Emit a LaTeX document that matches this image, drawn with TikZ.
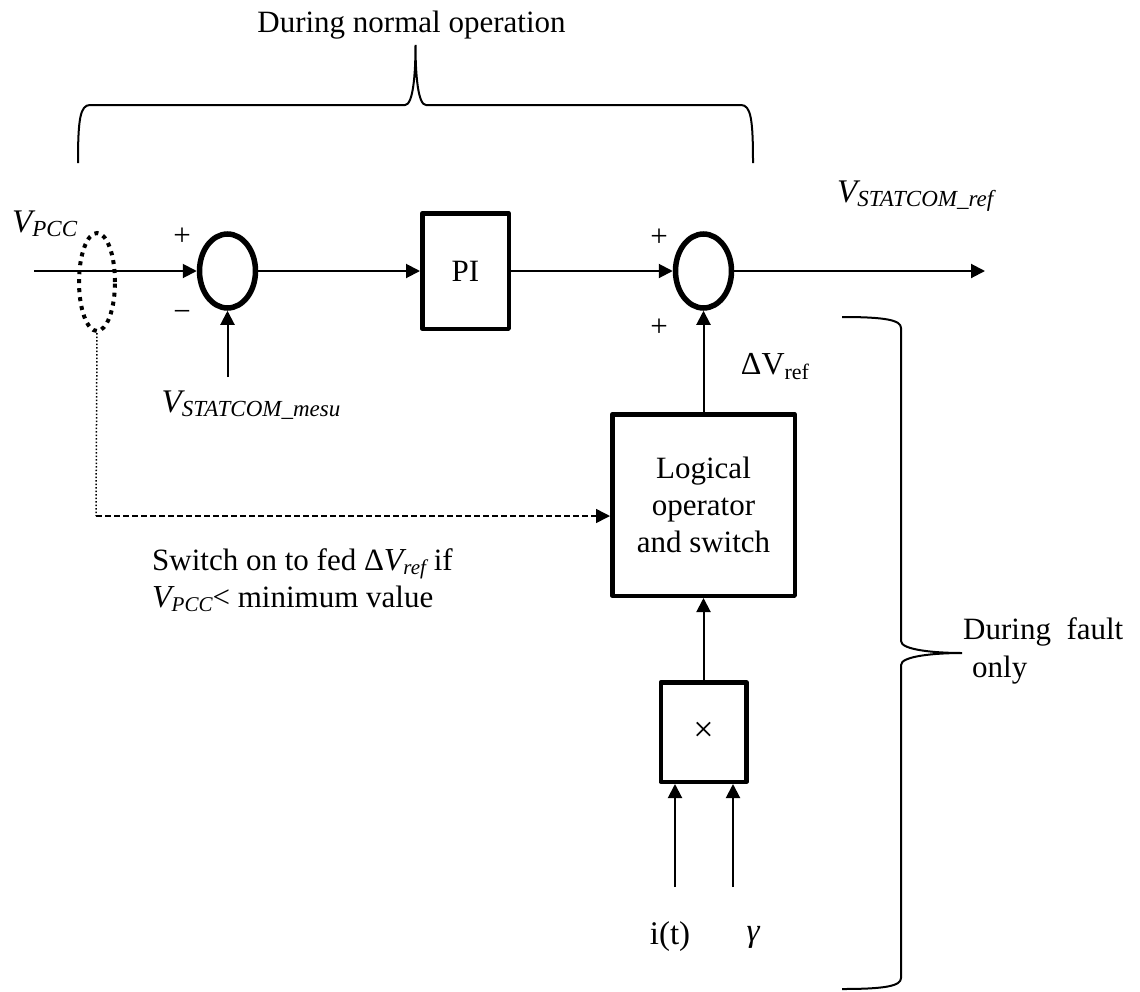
\documentclass[tikz,border=0pt]{standalone}
\usepackage{fontspec}
\setmainfont{Liberation Serif}
\usetikzlibrary{arrows.meta,shapes.geometric,calc}
\newcommand{\vsb}[2]{{\fontsize{33}{33}\selectfont\itshape #1}\raisebox{-4pt}{\fontsize{23}{23}\selectfont\itshape #2}}
\newcommand{\vsbin}[2]{{\fontsize{32}{32}\selectfont\itshape #1}\raisebox{-4pt}{\fontsize{21}{21}\selectfont\itshape #2}}
\newcommand{\vsbup}[2]{{\fontsize{32}{32}\selectfont #1}\raisebox{-5pt}{\fontsize{22}{22}\selectfont #2}}
\begin{document}
\begin{tikzpicture}[x=1pt,y=-1pt,
  font=\fontsize{31}{37}\selectfont,
  >={Triangle[length=14pt,width=14pt]},
  conn/.style={line width=2pt,->},
  sumnode/.style={ellipse,draw,line width=5.5pt,minimum width=56pt,minimum height=74pt,inner sep=0pt},
  blockbox/.style={rectangle,draw,line width=4.5pt,line join=round,inner sep=0pt},
  sensor/.style={ellipse,draw,line width=4pt,dash pattern=on 4pt off 5pt,minimum width=36pt,minimum height=98pt,inner sep=0pt},
  bracepath/.style={line width=2pt},
  lbl/.style={inner sep=0pt}]
\useasboundingbox (0,0) rectangle (1140,991);

% blocks
\node[sumnode] (s1) at (227.5,271) {};
\node[sumnode] (s2) at (703.5,271) {};
\node[blockbox,minimum width=86.5pt,minimum height=115.5pt] (pi) at (465.5,271) {PI};
\node[blockbox,minimum width=182.5pt,minimum height=181.5pt,align=center] (logic) at (703.5,505) {Logical\\operator\\and switch};
\node[blockbox,minimum width=85.5pt,minimum height=99.5pt] (mult) at (703.5,732) {{\fontsize{36}{36}\selectfont ×}};
\node[sensor] (sens) at (97,282) {};

% free ends
\coordinate (vin) at (34,271);
\coordinate (vout) at (985,271);
\coordinate (vmes) at (227.5,377);
\coordinate (bend) at (96,516);
\coordinate (itin) at (675,887);
\coordinate (gin) at (733,887);

% connectors
\draw[conn] (vin) -- (s1.west);
\draw[conn] (s1.east) -- (pi.west);
\draw[conn] (pi.east) -- (s2.west);
\draw[conn] (s2.east) -- (vout);
\draw[conn] (vmes) -- (s1.south);
\draw[conn] (logic.north) -- (s2.south);
\draw[conn] (mult.north) -- (logic.south);
\draw[conn] (itin) -- (itin |- mult.south);
\draw[conn] (gin) -- (gin |- mult.south);
\draw[line width=1.5pt,dotted] (sens.south) -- (bend);
\draw[line width=1.5pt,dash pattern=on 6pt off 3pt,->] (bend) -- (bend -| logic.west);

% labels
\node[lbl,anchor=west] (lvpcc) at (12,224) {\vsb{V}{PCC}};
\node[lbl] (p1) at (182,237) {+};
\node[lbl] (m1) at (182,316) {−};
\node[lbl] (p2) at (659,238) {+};
\node[lbl] (p3) at (659,328) {+};
\node[lbl] (lvmes) at (251,405) {\vsb{V}{STATCOM\_mesu}};
\node[lbl,anchor=west] (lvref) at (837,196) {\vsb{V}{STATCOM\_ref}};
\node[lbl] (ldv) at (775,367) {\vsbup{ΔV}{ref}};
\node[lbl,anchor=base west] (lsw1) at (152,570) {Switch on to fed Δ\vsbin{V}{ref} if};
\node[lbl,anchor=base west] (lsw2) at (152,607) {\vsbin{V}{PCC}< minimum value};
\node[lbl] (lit) at (670,937) {{\fontsize{33}{33}\selectfont i(t)}};
\node[lbl] (lgam) at (753,937) {{\fontsize{33}{33}\selectfont\itshape γ}};
\node[lbl,anchor=base] (lnorm) at (411.5,32) {During normal operation};
\node[lbl,anchor=base west] (lf1) at (963,639) {During\ \ fault};
\node[lbl,anchor=base west] (lf2) at (972,677) {only};

% braces
\draw[bracepath] (78,163) .. controls (78,120) and (80,105) .. (90,105) -- (405,105)
  .. controls (413,105) and (415.5,75) .. (415.5,45)
  .. controls (415.5,75) and (418,105) .. (426,105) -- (741,105)
  .. controls (751,105) and (753,120) .. (753,163);
\draw[bracepath] (842,317) .. controls (885,317) and (901,320) .. (901,328) -- (901,641)
  .. controls (901,650) and (935,653) .. (962,653)
  .. controls (935,653) and (901,656) .. (901,665) -- (901,978)
  .. controls (901,986) and (885,989) .. (842,989);
\end{tikzpicture}
\end{document}
